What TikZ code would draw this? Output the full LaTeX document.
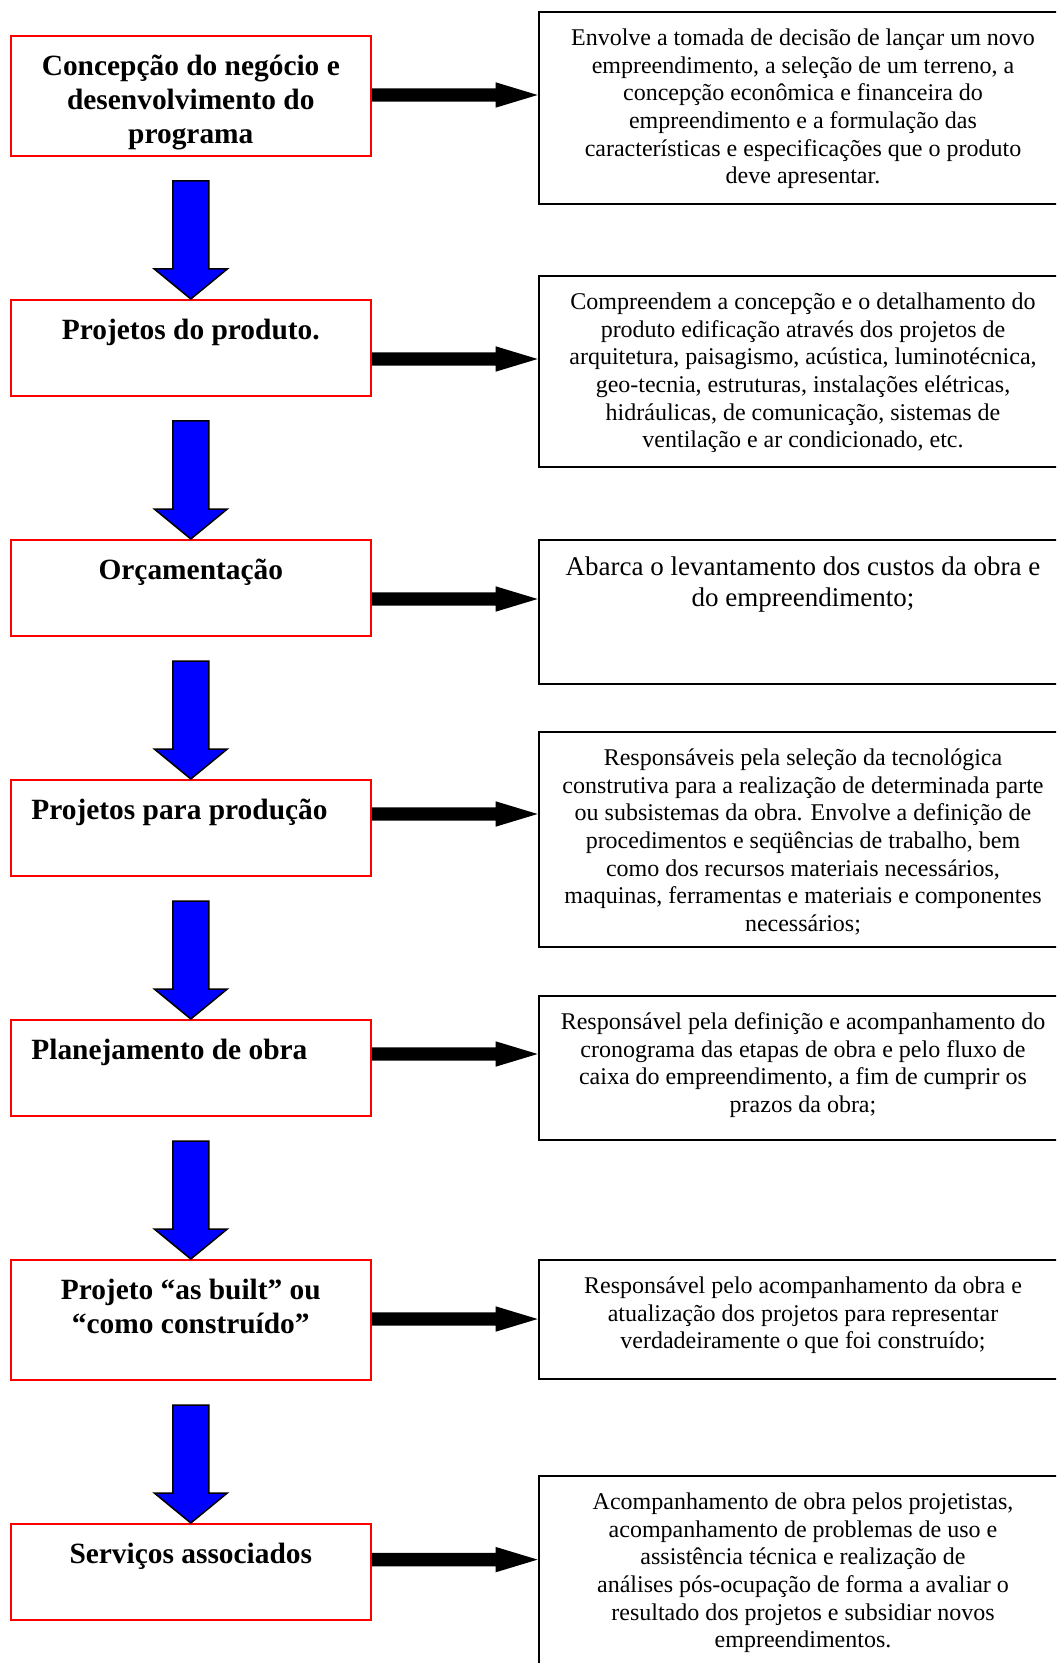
\documentclass[tikz,border=0pt]{standalone}
\usepackage{fontspec}
\setmainfont{Liberation Serif}
\usetikzlibrary{calc}
\newcommand\leadB{\rule{0pt}{14pt}}
\newcommand\leadR{\rule{0pt}{12pt}}
\newcommand\leadA{\rule{0pt}{13pt}}
\begin{document}
\begin{tikzpicture}[x=0.5pt,y=-0.5pt,
  stage/.style={draw=red, line width=1pt, minimum width=180.2pt, inner sep=0pt},
  stagetext/.style={anchor=north, inner sep=0pt, align=center,
    font=\fontsize{14.7}{17}\selectfont\bfseries},
  stageleft/.style={anchor=north west, inner sep=0pt, align=left,
    font=\fontsize{14.7}{17}\selectfont\bfseries},
  note/.style={draw=black, line width=1pt, minimum width=264.7pt, inner sep=0pt},
  notetext/.style={anchor=north, inner sep=0pt, align=center,
    font=\fontsize{12}{13.85}\selectfont},
  flowarrow/.style={fill={rgb,255:red,0;green,0;blue,255}, draw=black, line width=0.75pt, line join=miter},
  linkarrow/.style={fill=black}]
\useasboundingbox (0,0) rectangle (1056,1663);
\clip (0,0) rectangle (1056,1663);

% stage boxes on the left
\node[stage, minimum height=60pt] (s1) at (190.8,96) {};
\node[stage, minimum height=48pt] (s2) at (190.8,348) {};
\node[stage, minimum height=48pt] (s3) at (190.8,588) {};
\node[stage, minimum height=48pt] (s4) at (190.8,828) {};
\node[stage, minimum height=48pt] (s5) at (190.8,1068) {};
\node[stage, minimum height=60pt] (s6) at (190.8,1320) {};
\node[stage, minimum height=48pt] (s7) at (190.8,1572) {};

\node[stagetext] (t1) at (190.8,47.3) {\leadB Concepção do negócio e\\desenvolvimento do\\programa};
\node[stagetext] (t2) at (190.8,311.3) {\leadB Projetos do produto.};
\node[stagetext] (t3) at (190.8,551.3) {\leadB Orçamentação};
\node[stageleft] (t4) at (31,791.3) {\leadB Projetos para produção};
\node[stageleft] (t5) at (31,1031.3) {\leadB Planejamento de obra};
\node[stagetext] (t6) at (190.8,1271.3) {\leadB Projeto “as built” ou\\“como construído”};
\node[stagetext] (t7) at (190.8,1535.3) {\leadB Serviços associados};

% description boxes on the right
\node[note, minimum height=95.95pt] (d1) at (803.3,107.65) {};
\node[note, minimum height=95.9pt] (d2) at (803.3,371.6) {};
\node[note, minimum height=72.1pt] (d3) at (803.3,611.7) {};
\node[note, minimum height=107.65pt] (d4) at (803.3,839.15) {};
\node[note, minimum height=72.1pt] (d5) at (803.3,1067.6) {};
\node[note, minimum height=59.9pt] (d6) at (803.3,1319.4) {};
\node[note, minimum height=112.1pt] (d7) at (803.3,1587.9) {};

\node[notetext] (n1) at (803,21) {\leadR Envolve a tomada de decisão de lançar um novo\\empreendimento, a seleção de um terreno, a\\concepção econômica e financeira do\\empreendimento e a formulação das\\características e especificações que o produto\\deve apresentar.};
\node[notetext] (n2) at (803,285) {\leadR Compreendem a concepção e o detalhamento do\\produto edificação através dos projetos de\\arquitetura, paisagismo, acústica, luminotécnica,\\geo-tecnia, estruturas, instalações elétricas,\\hidráulicas, de comunicação, sistemas de\\ventilação e ar condicionado, etc.};
\node[notetext, font=\fontsize{13.5}{15.4}\selectfont] (n3) at (803,549) {\leadA Abarca o levantamento dos custos da obra e\\do empreendimento;};
\node[notetext] (n4) at (803,741) {\leadR Responsáveis pela seleção da tecnológica\\construtiva para a realização de determinada parte\\ou subsistemas da obra. Envolve a definição de\\procedimentos e seqüências de trabalho, bem\\como dos recursos materiais necessários,\\maquinas, ferramentas e materiais e componentes\\necessários;};
\node[notetext] (n5) at (803,1005) {\leadR Responsável pela definição e acompanhamento do\\cronograma das etapas de obra e pelo fluxo de\\caixa do empreendimento, a fim de cumprir os\\prazos da obra;};
\node[notetext] (n6) at (803,1269) {\leadR Responsável pelo acompanhamento da obra e\\atualização dos projetos para representar\\verdadeiramente o que foi construído;};
\node[notetext] (n7) at (803,1485) {\leadR Acompanhamento de obra pelos projetistas,\\acompanhamento de problemas de uso e\\assistência técnica e realização de\\análises pós-ocupação de forma a avaliar o\\resultado dos projetos e subsidiar novos\\empreendimentos.};

% blue block arrows between consecutive stages
\foreach \a/\b in {s1/s2,s2/s3,s3/s4,s4/s5,s5/s6,s6/s7}
  \draw[flowarrow] let \p1=(\a.south), \p2=(\b.north) in
    (\x1-9pt,\y1-12pt) -- (\x1+9pt,\y1-12pt) -- (\x1+9pt,\y2+15pt)
    -- (\x1+18.25pt,\y2+15pt) -- (\x2,\y2) -- (\x1-18.25pt,\y2+15pt)
    -- (\x1-9pt,\y2+15pt) -- cycle;

% black arrows from each stage to its description (drop below the stage's top edge)
\foreach \s/\d/\h in {s1/d1/30pt,s2/d2/30pt,s3/d3/30pt,s4/d4/17.5pt,s5/d5/17.5pt,s6/d6/30pt,s7/d7/18.3pt}
  \fill[linkarrow] let \p1=(\s.north east), \p2=(\d.west) in
    (\x1,\y1-\h+3.35pt) -- (\x2-21pt,\y1-\h+3.35pt) -- (\x2-21pt,\y1-\h+6.35pt)
    -- (\x2,\y1-\h) -- (\x2-21pt,\y1-\h-6.35pt) -- (\x2-21pt,\y1-\h-3.35pt)
    -- (\x1,\y1-\h-3.35pt) -- cycle;
\end{tikzpicture}
\end{document}
